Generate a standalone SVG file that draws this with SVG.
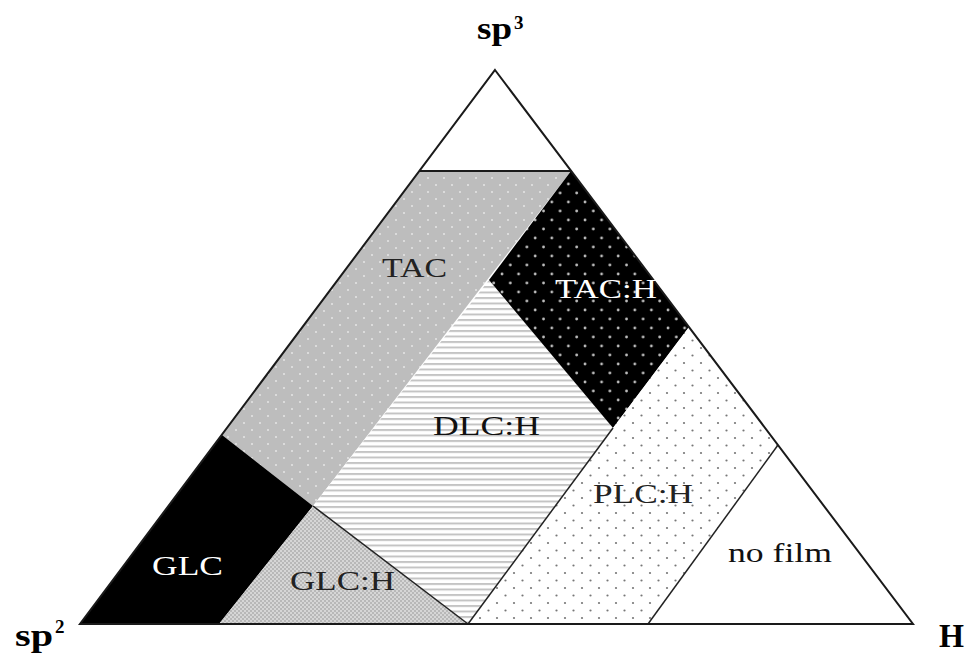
<svg xmlns="http://www.w3.org/2000/svg" width="969" height="657" viewBox="0 0 969 657">
<defs>
<pattern id="pTAC" width="16" height="14" patternUnits="userSpaceOnUse">
<rect width="16" height="14" fill="#bdbdbd"/>
<circle cx="4" cy="3" r="1" fill="#e6e6e6"/>
<circle cx="12" cy="10" r="1" fill="#e6e6e6"/>
</pattern>
<pattern id="pTACH" width="16.6" height="18" patternUnits="userSpaceOnUse">
<rect width="16.6" height="18" fill="#000"/>
<circle cx="4" cy="4" r="1.4" fill="#bdbdbd"/>
<circle cx="12.3" cy="13" r="1.4" fill="#bdbdbd"/>
</pattern>
<pattern id="pDLC" width="10" height="5.5" patternUnits="userSpaceOnUse">
<rect width="10" height="5.5" fill="#fff"/>
<rect y="0" width="10" height="2" fill="#c4c4c4"/>
</pattern>
<pattern id="pGLCH" width="4" height="4" patternUnits="userSpaceOnUse">
<rect width="4" height="4" fill="#d6d6d6"/>
<rect x="0" y="0" width="2" height="2" fill="#b8b8b8"/>
<rect x="2" y="2" width="2" height="2" fill="#b8b8b8"/>
</pattern>
<pattern id="pPLC" width="17" height="15" patternUnits="userSpaceOnUse">
<rect width="17" height="15" fill="#fff"/>
<circle cx="4" cy="3" r="1.1" fill="#777"/>
<circle cx="12.5" cy="10.5" r="1.1" fill="#777"/>
</pattern>
</defs>
<style>
.lbl{font-family:"Liberation Serif","Times New Roman",serif;font-size:28px}
.ax{font-family:"Liberation Serif","Times New Roman",serif;font-weight:bold}
.edge{fill:none;stroke:#1a1a1a;stroke-width:2;stroke-linejoin:miter}
.thin{fill:none;stroke:#222;stroke-width:1.5}
</style>
<rect width="969" height="657" fill="#fff"/>
<g id="regions">
<g id="top"><polygon points="495,70 419,171 571,171" fill="#fff"/></g>
<g id="TAC"><polygon points="419,171 571,171 313,506 222,435" fill="url(#pTAC)"/></g>
<g id="GLC"><polygon points="222,435 313,506 219,624 80,624" fill="#000"/></g>
<g id="GLCH"><polygon points="313,506 468,624 219,624" fill="url(#pGLCH)"/></g>
<g id="DLCH"><polygon points="489,280 613,428 468,624 313,506" fill="url(#pDLC)"/></g>
<g id="TACH"><polygon points="571,171 689,327 613,428 489,280" fill="url(#pTACH)"/></g>
<g id="PLCH"><polygon points="689,327 778,445 648,624 468,624 613,428" fill="url(#pPLC)"/></g>
<g id="nofilm"><polygon points="778,445 913,624 648,624" fill="#fff"/></g>
</g>
<g id="connectors">
<line class="thin" x1="313" y1="506" x2="468" y2="624"/>
<line class="thin" x1="613" y1="428" x2="468" y2="624"/>
<line class="thin" x1="778" y1="445" x2="648" y2="624"/>
<line class="edge" x1="419" y1="171" x2="571" y2="171"/>
<polygon class="edge" points="495,70 913,624 80,624"/>
</g>
<g id="labels">
<text class="lbl" x="382" y="277" textLength="65" lengthAdjust="spacingAndGlyphs" fill="#222">TAC</text>
<text class="lbl" x="555" y="298" textLength="102" lengthAdjust="spacingAndGlyphs" fill="#fff">TAC:H</text>
<text class="lbl" x="433" y="435" textLength="107" lengthAdjust="spacingAndGlyphs" fill="#111">DLC:H</text>
<text class="lbl" x="152" y="575" textLength="71" lengthAdjust="spacingAndGlyphs" fill="#fff">GLC</text>
<text class="lbl" x="290" y="590" textLength="105" lengthAdjust="spacingAndGlyphs" fill="#222">GLC:H</text>
<text class="lbl" x="593" y="503" textLength="100" lengthAdjust="spacingAndGlyphs" fill="#222">PLC:H</text>
<text class="lbl" x="728" y="562" textLength="104" lengthAdjust="spacingAndGlyphs" fill="#111">no film</text>
<text class="ax" x="477" y="39" font-size="32" textLength="35" lengthAdjust="spacingAndGlyphs">sp</text>
<text class="ax" x="514" y="29" font-size="19">3</text>
<text class="ax" x="15" y="646" font-size="32" textLength="38" lengthAdjust="spacingAndGlyphs">sp</text>
<text class="ax" x="55" y="633" font-size="19">2</text>
<text class="ax" x="939" y="647" font-size="34" textLength="25" lengthAdjust="spacingAndGlyphs">H</text>
</g>
</svg>
